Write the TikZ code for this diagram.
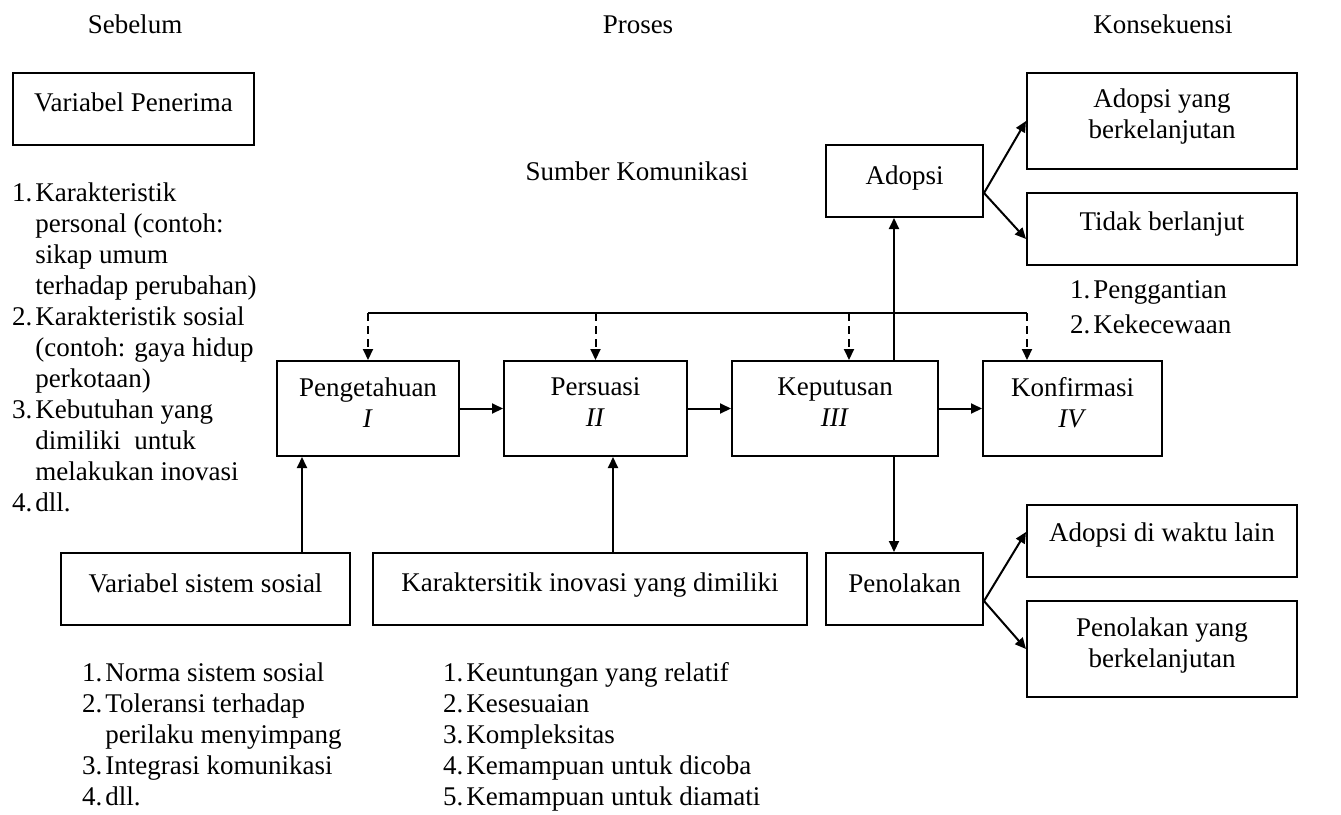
\documentclass[tikz,border=0pt]{standalone}
\usepackage{fontspec}
\setmainfont{Liberation Serif}
\usetikzlibrary{arrows.meta,calc}
\begin{document}
\begin{tikzpicture}[x=1pt,y=-1pt,
  box/.style={draw, line width=2pt, inner sep=0pt},
  txt/.style={inner sep=0pt, align=center, font=\fontsize{27}{31}\selectfont},
  hdr/.style={inner sep=0pt, anchor=base, font=\fontsize{27}{31}\selectfont},
  lst/.style={inner sep=0pt, anchor=base west, font=\fontsize{27}{31}\selectfont},
  arr/.style={line width=2pt, -{Triangle[length=11pt,width=10pt]}},
  darr/.style={arr, dash pattern=on 8pt off 5pt},
  ln/.style={line width=2pt}]
\useasboundingbox (0,0) rectangle (1341,814);

% headers
\node[hdr] (h1) at (135,33) {Sebelum};
\node[hdr] (h2) at (638,33) {Proses};
\node[hdr] (h3) at (1163,33) {Konsekuensi};
\node[hdr] (sk) at (637,180) {Sumber Komunikasi};

% boxes
\node[box, minimum width=241, minimum height=72] (vp) at (133.5,109) {};
\node[box, minimum width=182, minimum height=95] (pe) at (368,408.5) {};
\node[box, minimum width=183, minimum height=95] (ps) at (595.5,408.5) {};
\node[box, minimum width=206, minimum height=95] (kp) at (835,408.5) {};
\node[box, minimum width=179, minimum height=95] (kf) at (1072.5,408.5) {};
\node[box, minimum width=157, minimum height=72] (ad) at (904.5,181) {};
\node[box, minimum width=270, minimum height=96] (ab) at (1162,121) {};
\node[box, minimum width=270, minimum height=72] (tb) at (1162,229) {};
\node[box, minimum width=157, minimum height=72] (pn) at (904.5,589) {};
\node[box, minimum width=270, minimum height=72] (aw) at (1162,541) {};
\node[box, minimum width=270, minimum height=96] (pb) at (1162,649) {};
\node[box, minimum width=289, minimum height=72] (vs) at (205.5,589) {};
\node[box, minimum width=434, minimum height=72] (ki) at (590,589) {};

% box texts
\node[txt] (tvp) at ([yshift=7pt]vp.center) {Variabel Penerima};
\node[txt] (tpe) at ([yshift=6pt]pe.center) {Pengetahuan\\\textit{I}};
\node[txt] (tps) at ([yshift=6pt]ps.center) {Persuasi\\\textit{II}};
\node[txt] (tkp) at ([yshift=6pt]kp.center) {Keputusan\\\textit{III}};
\node[txt] (tkf) at ([yshift=6pt]kf.center) {Konfirmasi\\\textit{IV}};
\node[txt] (tad) at ([yshift=3pt]ad.center) {Adopsi};
\node[txt] (tab) at ([yshift=4pt]ab.center) {Adopsi yang\\berkelanjutan};
\node[txt] (ttb) at ([yshift=5pt]tb.center) {Tidak berlanjut};
\node[txt] (tpn) at ([yshift=6pt]pn.center) {Penolakan};
\node[txt] (taw) at ([yshift=6pt]aw.center) {Adopsi di waktu lain};
\node[txt] (tpb) at ([yshift=4pt]pb.center) {Penolakan yang\\berkelanjutan};
\node[txt] (tvs) at ([yshift=6pt]vs.center) {Variabel sistem sosial};
\node[txt] (tki) at ([yshift=4pt]ki.center) {Karaktersitik inovasi yang dimiliki};

% lists
\node[lst] (l1) at (12,201) {\begin{tabular}[t]{@{}l@{\hspace{3pt}}l@{}}
1.&Karakteristik\\
  &personal (contoh:\\
  &sikap umum\\
  &terhadap perubahan)\\
2.&Karakteristik sosial\\
  &(contoh: gaya hidup\\
  &perkotaan)\\
3.&Kebutuhan yang\\
  &dimiliki\ \ untuk\\
  &melakukan inovasi\\
4.&dll.
\end{tabular}};
\node[lst] (l2) at (82,681) {\begin{tabular}[t]{@{}l@{\hspace{3pt}}l@{}}
1.&Norma sistem sosial\\
2.&Toleransi terhadap\\
  &perilaku menyimpang\\
3.&Integrasi komunikasi\\
4.&dll.
\end{tabular}};
\node[lst] (l3) at (443,681) {\begin{tabular}[t]{@{}l@{\hspace{3pt}}l@{}}
1.&Keuntungan yang relatif\\
2.&Kesesuaian\\
3.&Kompleksitas\\
4.&Kemampuan untuk dicoba\\
5.&Kemampuan untuk diamati
\end{tabular}};
\node[lst] (l4) at (1070,298) {\begin{tabular}[t]{@{}l@{\hspace{3pt}}l@{}}
1.&Penggantian\\[4pt]
2.&Kekecewaan
\end{tabular}};

% main flow
\draw[arr] (pe.east) -- (ps.west);
\draw[arr] (ps.east) -- (kp.west);
\draw[arr] (kp.east) -- (kf.west);

% inputs from below
\coordinate (a1) at ([xshift=-66pt]pe.south);
\draw[arr] (a1 |- vs.north) -- (a1);
\coordinate (a2) at ([xshift=17.5pt]ps.south);
\draw[arr] (a2 |- ki.north) -- (a2);

% decision branches
\coordinate (a3) at ([xshift=59pt]kp.north);
\draw[arr] (a3) -- (a3 |- ad.south);
\coordinate (a4) at ([xshift=59pt]kp.south);
\draw[arr] (a4) -- (a4 |- pn.north);

% feedback (communication source)
\coordinate (fbL) at (367,313);
\coordinate (fbR) at (1027,313);
\draw[ln] (pe.north |- fbL) -- (fbR);
\draw[darr] (pe.north |- fbL) -- (pe.north);
\draw[darr] (ps.north |- fbL) -- (ps.north);
\coordinate (d3) at ([xshift=14pt]kp.north);
\draw[darr] (d3 |- fbL) -- (d3);
\draw[darr] (fbR) -- (fbR |- kf.north);

% consequences
\coordinate (j1) at ([yshift=-12pt]ad.east);
\draw[arr] (j1) -- (ab.west);
\draw[arr] (j1) -- ([yshift=-10pt]tb.west);
\coordinate (j2) at ([yshift=-12pt]pn.east);
\draw[arr] (j2) -- ([yshift=9pt]aw.west);
\draw[arr] (j2) -- (pb.west);
\end{tikzpicture}
\end{document}
